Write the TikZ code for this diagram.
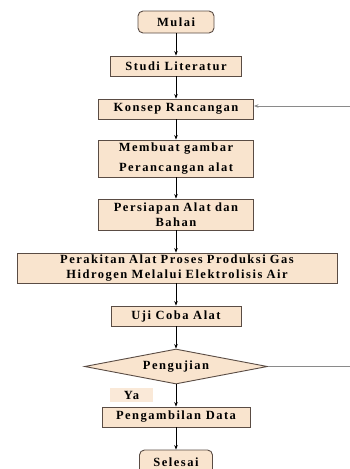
\documentclass[tikz,border=0pt]{standalone}
\usepackage{fontspec}
\setmainfont{Liberation Serif}
\newfontfamily\flowfont[LetterSpace=12]{Liberation Serif}
\usetikzlibrary{shapes.geometric,arrows.meta}
\definecolor{boxfill}{HTML}{F9E4CE}
\definecolor{boxline}{HTML}{5A4C44}
\definecolor{backline}{HTML}{8A8A8A}

\begin{document}
\begin{tikzpicture}[x=1pt,y=-1pt,
	flowbox/.style={inner sep=0pt,draw=boxline,line width=0.9pt,fill=boxfill,
		align=center,font=\flowfont\bfseries\fontsize{12.5}{14.5}\selectfont},
	startstop/.style={flowbox,rounded corners=5pt},
	decision/.style={flowbox,diamond,aspect=5.2},
	flow/.style={-{Stealth[length=4.5pt,width=3.5pt]},line width=0.7pt,black}]
	\useasboundingbox (0,0) rectangle (350,469);
	\clip (0,0) rectangle (350,469);

	\node[startstop,minimum width=76pt,minimum height=22pt] (mulai) at (176,22) {Mulai};
	\node[flowbox,minimum width=131pt,minimum height=20pt] (studi) at (176,66) {Studi Literatur};
	\node[flowbox,minimum width=155pt,minimum height=20pt] (konsep) at (176,109) {Konsep Rancangan};
	\node[flowbox,minimum width=155pt,minimum height=37pt,
	text width=150pt] (gambar) at (176,158.5) {Membuat gambar\\[5pt]Perancangan alat};
	\node[flowbox,minimum width=155pt,minimum height=31pt,
	text width=150pt] (persiapan) at (176,214.5) {Persiapan Alat dan\\Bahan};
	\node[flowbox,minimum width=320pt,minimum height=30pt,
	text width=318pt] (perakitan) at (177,268) {Perakitan Alat Proses Produksi Gas\\Hidrogen Melalui Elektrolisis Air};
	\node[flowbox,minimum width=130pt,minimum height=20pt] (uji) at (176,316) {Uji Coba Alat};
	\node[decision,minimum width=183pt,minimum height=35pt] (pengujian) at (176,366.5) {Pengujian};
	\node[flowbox,draw=none,fill=boxfill!80!white,minimum width=43pt,minimum height=14pt] (ya) at (131.5,395) {Ya};
	\node[flowbox,minimum width=148pt,minimum height=20pt] (data) at (176,417) {Pengambilan Data};
	\node[startstop,minimum width=73pt,minimum height=24pt] (selesai) at (176,462) {Selesai};

	% alur utama
	\draw[flow] (mulai) -- (studi);
	\draw[flow] (studi) -- (konsep);
	\draw[flow] (konsep) -- (gambar);
	\draw[flow] (gambar) -- (persiapan);
	\draw[flow] (persiapan) -- (perakitan.north -| persiapan);
	\draw[flow] (perakitan.south -| uji) -- (uji);
	\draw[flow] (uji) -- (pengujian);
	\draw[flow] (pengujian) -- (data);
	\draw[flow] (data) -- (selesai);

	% jalur kembali
	\coordinate (kembali1) at (350,106);
	\coordinate (kembali2) at (350,366.5);
	\draw[backline,line width=0.8pt] (pengujian.east) -- (kembali2);
	\draw[-{Stealth[length=4.5pt,width=3.5pt]},backline,line width=0.8pt] (kembali1) -- (konsep.east |- kembali1);
\end{tikzpicture}
\end{document}
